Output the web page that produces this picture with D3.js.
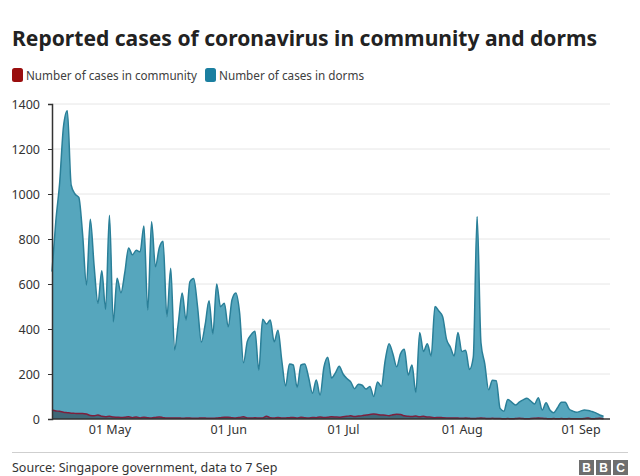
<!DOCTYPE html>
<html>
<head>
<meta charset="utf-8">
<script src="https://cdn.jsdelivr.net/npm/d3@7"></script>
<style>
  body { margin: 0; background: #fff; }
  svg { font-family: "Noto Sans", "Open Sans", sans-serif; }
</style>
</head>
<body>
<div id="chart"></div>
<script>
// first and last reported day
var startDay = "2020-04-16";
var endDay = "2020-09-07";

// dorm cases, one value per day from 16 Apr to 7 Sep
var dormCases = [
  655, 880, 1050, 1300, 1370, 1040, 1000, 985, 820, 596, 888, 680, 515, 659, 488,
  906, 432, 626, 561, 650, 760, 730, 750, 743, 858, 484, 877, 677, 760, 790, 455,
  670, 307, 430, 560, 440, 610, 625, 500, 342, 420, 526, 378, 600, 499, 515,
  410, 530, 560, 470, 250, 345, 375, 390, 218, 443, 422, 440, 343, 395, 260,
  147, 245, 240, 140, 240, 245, 185, 115, 173, 107, 230, 275, 182, 205, 235,
  200, 180, 165, 135, 155, 150, 133, 145, 100, 165, 145, 260, 335, 290, 232,
  290, 310, 196, 240, 118, 385, 300, 335, 280, 500, 480, 455, 355, 320, 280, 385,
  300, 306, 220, 275, 900, 340, 245, 130, 172, 170, 47, 35, 87, 75, 62,
  75, 85, 92, 80, 67, 95, 40, 72, 40, 28, 50, 75, 75, 45, 35, 30,
  35, 40, 38, 33, 27, 18, 12
];

// community cases, same days
var communityCases = [
  40, 36, 34, 30, 28, 26, 25, 24, 25, 22, 16, 14, 18, 12, 10,
  12, 9, 8, 7, 8, 10, 6, 9, 5, 8, 6, 5, 7, 9, 6, 4,
  5, 4, 5, 3, 4, 4, 3, 3, 5, 4, 3, 3, 4, 6, 8,
  8, 6, 5, 7, 10, 5, 4, 6, 4, 5, 12, 6, 5, 7, 4,
  5, 6, 7, 4, 8, 6, 5, 7, 6, 9, 7, 8, 10, 9, 8,
  10, 12, 14, 11, 13, 15, 18, 20, 22, 20, 18, 17, 15, 19, 21,
  20, 14, 12, 11, 13, 10, 12, 9, 8, 6, 7, 6, 5, 4, 5, 4,
  3, 4, 3, 2, 3, 4, 3, 2, 3, 2, 2, 1, 2, 1, 2,
  3, 2, 1, 2, 3, 4, 3, 2, 1, 2, 1, 2, 1, 2, 1, 1,
  1, 2, 4, 1, 2, 3, 1
];

var yTicks = [0, 200, 400, 600, 800, 1000, 1200, 1400];
var seriesNames = ["Number of cases in community", "Number of cases in dorms"];

var width = 640;
var height = 476;
var plotLeft = 52, plotRight = 603.5, plotTop = 104, plotBottom = 419;
var gridEnd = 610;

var parse = d3.timeParse("%Y-%m-%d");
var days = d3.timeDay.range(parse(startDay), d3.timeDay.offset(parse(endDay), 1));

var data = days.map(function(d, i) {
  return { date: d, dorm: dormCases[i], community: communityCases[i] };
});

var svg = d3.select("#chart").append("svg")
  .attr("width", width)
  .attr("height", height);

// Title
svg.append("text")
  .attr("x", 12)
  .attr("y", 46)
  .attr("textLength", 585)
  .attr("lengthAdjust", "spacingAndGlyphs")
  .style("font-size", "22px")
  .style("font-weight", "bold")
  .style("fill", "#222")
  .text("Reported cases of coronavirus in community and dorms");

// Legend
var legend = svg.append("g").attr("transform", "translate(12,68)");
var legendX = [0, 193];
var legendColors = ["#9a0e0e", "#1b7fa0"];
var legendWidths = [171, 145];
seriesNames.forEach(function(name, i) {
  legend.append("rect")
    .attr("x", legendX[i])
    .attr("y", 0)
    .attr("width", 11)
    .attr("height", 14)
    .attr("rx", 2.5)
    .style("fill", legendColors[i]);
  legend.append("text")
    .attr("x", legendX[i] + 14)
    .attr("y", 11.5)
    .attr("textLength", legendWidths[i])
    .attr("lengthAdjust", "spacingAndGlyphs")
    .style("font-size", "13px")
    .style("fill", "#404040")
    .text(name);
});

// Scales
var x = d3.scaleTime()
  .domain([days[0], days[days.length - 1]])
  .range([plotLeft, plotRight]);

var y = d3.scaleLinear()
  .domain([0, 1400])
  .range([plotBottom, plotTop]);

// Gridlines
svg.append("g")
  .selectAll("line")
  .data(yTicks.slice(1))
  .enter()
  .append("line")
  .attr("x1", plotLeft)
  .attr("x2", gridEnd)
  .attr("y1", function(d) { return y(d); })
  .attr("y2", function(d) { return y(d); })
  .style("stroke", "#e6e6e6")
  .style("stroke-width", 1);

// Areas
var dormArea = d3.area()
  .curve(d3.curveMonotoneX)
  .x(function(d) { return x(d.date); })
  .y0(y(0))
  .y1(function(d) { return y(d.dorm); });

var dormLine = d3.line()
  .curve(d3.curveMonotoneX)
  .x(function(d) { return x(d.date); })
  .y(function(d) { return y(d.dorm); });

var commArea = d3.area()
  .curve(d3.curveMonotoneX)
  .x(function(d) { return x(d.date); })
  .y0(y(0))
  .y1(function(d) { return y(d.community); });

var commLine = d3.line()
  .curve(d3.curveMonotoneX)
  .x(function(d) { return x(d.date); })
  .y(function(d) { return y(d.community); });

svg.append("path")
  .datum(data)
  .attr("d", dormArea)
  .style("fill", "#56a6bd");

svg.append("path")
  .datum(data)
  .attr("d", dormLine)
  .style("fill", "none")
  .style("stroke", "#2a7f98")
  .style("stroke-width", 1.5);

svg.append("path")
  .datum(data)
  .attr("d", commArea)
  .style("fill", "#3f6878");

svg.append("path")
  .datum(data)
  .attr("d", commLine)
  .style("fill", "none")
  .style("stroke", "#7d1f3c")
  .style("stroke-width", 1.5);

// Y axis
var yAxis = svg.append("g")
  .attr("transform", "translate(" + plotLeft + ",0)")
  .call(d3.axisLeft(y)
    .tickValues(yTicks)
    .tickFormat(d3.format("d"))
    .tickSize(4)
    .tickPadding(8));
yAxis.select(".domain").style("stroke", "#333").style("stroke-width", 1.5);
yAxis.selectAll(".tick line").style("stroke", "#333");
yAxis.selectAll("text")
  .style("font-size", "12.5px")
  .style("fill", "#333")
  .style("font-family", "'Noto Sans', sans-serif");

// X axis
var xAxis = svg.append("g")
  .attr("transform", "translate(0," + plotBottom + ")")
  .call(d3.axisBottom(x)
    .ticks(d3.timeMonth.every(1))
    .tickFormat(d3.timeFormat("%d %b"))
    .tickSize(0)
    .tickPadding(6));
xAxis.select(".domain")
  .attr("d", "M" + plotLeft + ",0H" + gridEnd)
  .style("stroke", "#333")
  .style("stroke-width", 1.5);
xAxis.selectAll("text")
  .style("font-size", "12.5px")
  .style("fill", "#333")
  .style("font-family", "'Noto Sans', sans-serif");

// Footer
svg.append("line")
  .attr("x1", 12)
  .attr("x2", 628)
  .attr("y1", 452.5)
  .attr("y2", 452.5)
  .style("stroke", "#cfcfcf")
  .style("stroke-width", 1);

svg.append("text")
  .attr("x", 12)
  .attr("y", 472)
  .style("font-size", "12.5px")
  .style("fill", "#333")
  .text("Source: Singapore government, data to 7 Sep");

var logo = svg.append("g").attr("transform", "translate(579,460)");
["B", "B", "C"].forEach(function(letter, i) {
  logo.append("rect")
    .attr("x", i * 17)
    .attr("y", 0)
    .attr("width", 15)
    .attr("height", 15)
    .style("fill", "#6e6e6e");
  logo.append("text")
    .attr("x", i * 17 + 7.5)
    .attr("y", 12)
    .attr("text-anchor", "middle")
    .style("font-size", "12px")
    .style("font-weight", "bold")
    .style("fill", "#fff")
    .style("font-family", "'Liberation Sans', Arial, sans-serif")
    .text(letter);
});
</script>
</body>
</html>
